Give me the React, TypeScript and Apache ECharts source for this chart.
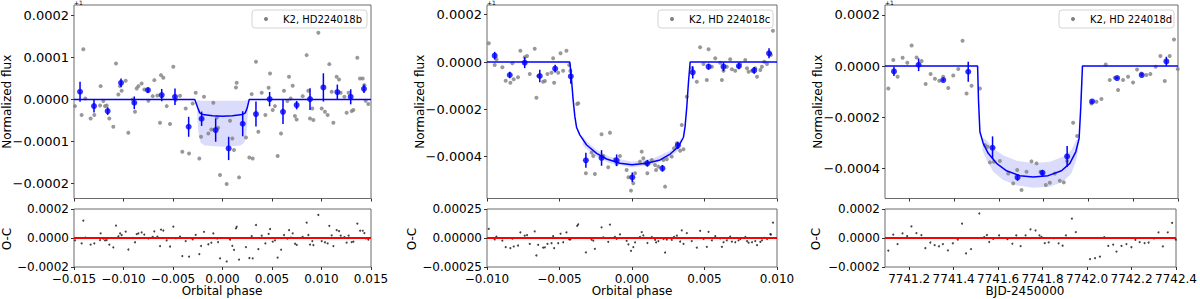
import React, { useEffect, useRef } from "react";
import * as echarts from "echarts";

// ---------- Panel 1: HD224018b (orbital phase, flux offset in ppm around 1) ----------
const bPhase = [
  -0.0149, -0.01423, -0.01406, -0.01386, -0.01332, -0.01295, -0.01231, -0.01237, -0.01204, -0.01187,
  -0.0117, -0.01143, -0.01103, -0.01076, -0.01052, -0.01035, -0.01019, -0.00978, -0.00951, -0.00907,
  -0.00884, -0.00867, -0.0085, -0.00817, -0.0079, -0.00749, -0.00705, -0.00689, -0.00658, -0.00631,
  -0.00621, -0.00598, -0.00564, -0.0053, -0.00497, -0.00473, -0.00429, -0.00406, -0.00372, -0.00338,
  -0.00301, -0.00271, -0.00234, -0.00217, -0.00187, -0.00143, -0.00113, -0.00093, -0.00056, -0.00045,
  -0.00025, 0.00042, 0.00076, 0.00099, 0.00116, 0.00136, 0.00143, 0.00167, 0.00237, 0.00271,
  0.00295, 0.00305, 0.00338, 0.00362, 0.00396, 0.00433, 0.00466, 0.0048, 0.00507, 0.0053,
  0.00557, 0.00591, 0.00621, 0.00655, 0.00672, 0.00689, 0.00709, 0.00732, 0.00749, 0.0081,
  0.0085, 0.00867, 0.00884, 0.00907, 0.00918, 0.00968, 0.01002, 0.01035, 0.01062, 0.01079,
  0.01103, 0.0112, 0.01153, 0.01177, 0.01194, 0.01231, 0.01254, 0.01274, 0.01305, 0.01322,
  0.01362, 0.01389, 0.01416, 0.01433, 0.01446, 0.01473,
];
const bFlux = [
  -15.9, -37.3, 119.8, 2.4, -45.2, -37.3, 31.7, -14.3, -4.0, -15.9,
  -14.3, -45.2, -65.1, 85.7, 11.9, 31.7, 20.6, 44.4, -79.4, 0,
  -29.4, 26.2, 31.7, 38.1, 23.8, -3.2, 7.9, 46.0, 9.5, -55.6,
  57.9, 51.6, -15.9, -58.7, 77.8, -1.6, 8.7, -124.6, -21.4, -128.6,
  -9.5, 15.9, -140.5, -88.9, 6.3, -81.0, -71.4, -7.9, -42.9, -67.5,
  -180.2, -201.6, -50.8, -92.9, -120.6, 28.6, 39.7, -185.7, -90.5, -138.1,
  12.7, -140.5, 89.7, -77.0, 15.9, -37.3, 27.8, 61.9, -25.4, -15.9,
  -134.9, -81.0, 20.6, -4.0, 54.0, 2.4, 32.5, -39.7, -47.6, 7.9,
  105.6, 20.6, -45.2, -21.4, -49.2, 158.7, -21.4, -29.4, -37.3, 84.1,
  18.3, -55.6, 54.0, 47.6, 15.9, 6.3, -31.7, 15.9, -27.8, -25.4,
  99.2, 50.0, 50.0, 34.1, -3.2, -11.1,
];
const bBinPhase = [-0.01439, -0.01298, -0.0116, -0.01025, -0.00891, -0.00753, -0.00614, -0.0048, -0.00342, -0.00211, -0.00069, 0.00062, 0.00204, 0.00338, 0.00476, 0.00611, 0.00749, 0.00884, 0.01019, 0.0116, 0.01295, 0.01429];
const bBinFlux = [18.3, -15.9, -27.8, 39.7, -7.9, 22.2, 10.3, 6.3, -65.1, -46.0, -73.0, -116.7, -57.9, -34.9, 0.8, -29.4, -13.5, 0.8, 28.6, 17.5, 6.3, 25.4];
const bBinErr = [23.8, 15.1, 9.1, 9.9, 15.1, 6, 14.7, 19.8, 23.8, 17.1, 27.8, 27.8, 29.8, 29.8, 17.1, 29, 9.9, 25.8, 33.7, 17.9, 17.9, 9.9];
const bModelPhase = [-0.015, -0.0028, -0.0025, -0.0023, -0.002, -0.001, 0, 0.001, 0.002, 0.0023, 0.0025, 0.0027, 0.015];
const bModelFlux = [0, 0, -20, -32, -36, -39, -40, -39, -36, -32, -20, 0, 0];
const bBandPhase = [-0.0026, -0.0025, -0.0024, -0.0022, -0.0018, 0, 0.0018, 0.0022, 0.0024, 0.0025, 0.0026];
const bBandUpper = [-2, -2, -2, -3, -3, -3, -3, -3, -2, -2, -2];
const bBandLower = [-10, -60, -85, -103, -110, -113, -110, -103, -85, -60, -10];

// ---------- Panel 2: HD 224018c ----------
const cPhase = [
  -0.00988, -0.00947, -0.00935, -0.00894, -0.00871, -0.00839, -0.00825, -0.00816, -0.00786, -0.0077,
  -0.0074, -0.00724, -0.00705, -0.00671, -0.00659, -0.00647, -0.00613, -0.00601, -0.00583, -0.00555,
  -0.00544, -0.00537, -0.00509, -0.00493, -0.00475, -0.00452, -0.00433, -0.00425, -0.00378, -0.00371,
  -0.00318, -0.00279, -0.00267, -0.00256, -0.0021, -0.00198, -0.00164, -0.00152, -0.00118, -0.00106,
  -0.00083, -0.00037, -0.00025, -0.00007, 0.00009, 0.00021, 0.00055, 0.00067, 0.00078, 0.0009,
  0.00106, 0.00136, 0.00159, 0.00166, 0.00182, 0.00217, 0.00228, 0.0024, 0.00274, 0.0029,
  0.00309, 0.00332, 0.00343, 0.00355, 0.00378, 0.00412, 0.00447, 0.0047, 0.00493, 0.00516,
  0.00528, 0.00551, 0.00574, 0.00608, 0.0062, 0.00631, 0.00654, 0.00677, 0.00689, 0.00712,
  0.00735, 0.00746, 0.00781, 0.00793, 0.00804, 0.00827, 0.0085, 0.00862, 0.00885, 0.00896,
  0.00912, 0.00931, 0.00954, 0.00958, 0.00972,
];
const cFlux = [
  78.9, -12.7, 11.3, -22.5, -78.9, -87.3, -5.6, -73.2, -64.8, 47.9,
  19.7, 25.4, -50.7, 56.3, -150.7, -59.2, -83.1, -80.3, -50.7, -45.1,
  15.5, -87.3, -45.1, 36.6, -36.6, 47.9, -12.7, -38.0, -177.5, -174.7,
  -470.4, -383.1, -397.2, -473.3, -305.6, -397.2, -445.1, -298.6, -411.3, -431.0,
  -397.2, -456.4, -487.3, -543.7, -512.7, -470.4, -421.1, -378.9, -407.0, -428.2,
  -470.4, -414.1, -435.2, -456.4, -442.3, -414.1, -526.8, -411.3, -400.0, -364.8,
  -343.7, -374.7, -266.2, -369.0, -146.5, -26.8, -83.1, 62.0, -8.5, -76.1,
  53.5, -19.7, 15.5, -2.8, -76.1, -36.6, -19.7, 11.3, -31.0, -36.6,
  -19.7, -8.5, 8.5, -26.8, -40.8, -36.6, -26.8, -62.0, -33.8, -19.7,
  1.4, -8.5, 33.8, 29.6, 132.4,
];
const cBinPhase = [-0.00947, -0.00843, -0.0074, -0.00636, -0.0053, -0.00422, -0.00318, -0.0021, -0.00106, 0.00002, 0.00106, 0.0021, 0.00316, 0.00419, 0.00528, 0.00631, 0.00737, 0.00843, 0.00945];
const cBinFlux = [26.8, -54.9, -2.8, -59.2, -28.2, -60.6, -415.5, -405.6, -415.5, -487.3, -428.2, -449.3, -352.1, -43.7, -19.7, -19.7, -16.9, -35.2, 36.6];
const cBinErr = [16.2, 14.1, 23.2, 26.1, 16.2, 31.7, 31.7, 33.1, 24.6, 20.4, 14.1, 14.1, 15.5, 26.1, 12.7, 19, 14.1, 14.1, 21.1];
const cModelPhase = [-0.01, -0.00429, -0.00417, -0.00406, -0.00394, -0.00382, -0.0036, -0.00313, -0.00244, -0.00175, -0.00083, 0, 0.00101, 0.00194, 0.00263, 0.0032, 0.00355, 0.00366, 0.00378, 0.00389, 0.00401, 0.01];
const cModelFlux = [0, 0, -76, -160, -231, -277, -308, -351, -386, -410, -428, -434, -428, -414, -389, -358, -318, -273, -189, -90, 0, 0];
const cBandPhase = [-0.0034, -0.00325, -0.00244, -0.00152, 0, 0.00147, 0.00263, 0.0032, 0.0034];
const cBandUpper = [-310, -328, -372, -402, -422, -408, -375, -343, -318];
const cBandLower = [-350, -362, -400, -428, -446, -432, -403, -373, -358];

// ---------- Panel 3: HD 224018d (BJD-2450000) ----------
const dTime = [
  7741.1064, 7741.1287, 7741.148, 7741.1703, 7741.1911, 7741.2105, 7741.2328, 7741.2551, 7741.2729, 7741.2952,
  7741.3146, 7741.3339, 7741.3517, 7741.3741, 7741.3964, 7741.4186, 7741.4379, 7741.4558, 7741.4781, 7741.5153,
  7741.5376, 7741.5495, 7741.5599, 7741.5777, 7741.6045, 7741.6417, 7741.664, 7741.6818, 7741.7012, 7741.7235,
  7741.7458, 7741.7681, 7741.7859, 7741.7948, 7741.8097, 7741.8276, 7741.8499, 7741.8722, 7741.89, 7741.9049,
  7741.9317, 7741.9495, 7742.0134, 7742.0357, 7742.0581, 7742.0774, 7742.0952, 7742.1175, 7742.1324, 7742.1547,
  7742.177, 7742.1993, 7742.2172, 7742.2365, 7742.2588, 7742.2766, 7742.3004, 7742.3212, 7742.3408, 7742.3629,
  7742.3822, 7742.399,
];
const dFlux = [
  -87.0, 23.4, -41.6, 32.5, 13.0, 80.5, 33.8, 19.5, -70.1, -31.2,
  -49.4, -57.1, -41.6, -85.7, -36.4, -11.7, 98.7, -106.5, -76.6, -87.0,
  -307.8, -314.3, -375.3, -372.7, -370.1, -418.2, -457.1, -405.2, -483.1, -411.7,
  -371.4, -379.2, -411.7, -420.8, -463.6, -454.5, -418.2, -446.8, -453.2, -370.1,
  -220.8, -272.7, -145.5, -139.0, -128.6, 6.5, -54.5, -45.5, -93.5, -54.5,
  -41.6, -63.6, -13.0, -28.6, -35.1, -31.2, -2.6, 39.0, -58.4, 39.0,
  103.9, -11.7,
];
const dBinTime = [7741.1316, 7741.2417, 7741.3517, 7741.4632, 7741.5718, 7741.6833, 7741.7948, 7741.9049, 7742.0164, 7742.1279, 7742.238, 7742.348];
const dBinFlux = [-20.8, 5.2, -54.5, -22.1, -318.2, -433.8, -415.6, -352.0, -137.7, -46.8, -35.1, 18.2];
const dBinErr = [18.2, 24.7, 4, 39, 44.2, 13, 11, 40.9, 4, 4, 4, 18.2];
const dModelTime = [7741.0915, 7741.505, 7741.509, 7741.5153, 7741.53, 7741.5525, 7741.5897, 7741.6343, 7741.6937, 7741.7532, 7741.8202, 7741.8796, 7741.917, 7741.9436, 7741.9584, 7741.9659, 7741.9733, 7742.4];
const dModelFlux = [0, 0, -132, -256, -301, -340, -379, -408, -427, -432, -427, -408, -379, -334, -282, -158, 0, 0];
const dBandTime = [7741.527, 7741.545, 7741.575, 7741.619, 7741.679, 7741.753, 7741.828, 7741.887, 7741.924, 7741.946, 7741.955];
const dBandUpper = [-280, -288, -321, -347, -369, -379, -373, -353, -327, -288, -280];
const dBandLower = [-330, -366, -412, -444, -464, -474, -470, -451, -418, -366, -320];

// ---------- Axes ----------
const bXRange = [-0.015, 0.015];
const cXRange = [-0.01, 0.01];
const dXRange = [7741.0915, 7742.4];
const bYRange = [-236, 225];
const cYRange = [-577, 241];
const dYRange = [-516, 238];
const bResRange = [-200, 200];
const cResRange = [-250, 250];
const dResRange = [-200, 200];
const bXTicks = [-0.015, -0.01, -0.005, 0, 0.005, 0.01, 0.015];
const cXTicks = [-0.01, -0.005, 0, 0.005, 0.01];
const dXTicks = [7741.2, 7741.4, 7741.6, 7741.8, 7742.0, 7742.2, 7742.4];
const bYTicks = [-200, -100, 0, 100, 200];
const cYTicks = [-400, -200, 0, 200];
const dYTicks = [-400, -200, 0, 200];
const bResTicks = [-200, 0, 200];
const cResTicks = [-250, 0, 250];
const dResTicks = [-200, 0, 200];

const legendNames = ["K2, HD224018b", "K2, HD 224018c", "K2, HD 224018d"];
const xTitles = ["Orbital phase", "Orbital phase", "BJD-2450000"];

const FONT = "DejaVu Sans";
const BLUE = "#0000ff";

function interp(x: number, xs: number[], ys: number[]) {
  if (x <= xs[0]) return ys[0];
  for (let i = 0; i < xs.length - 1; i++) {
    if (x <= xs[i + 1]) {
      const t = (x - xs[i]) / (xs[i + 1] - xs[i]);
      return ys[i] + t * (ys[i + 1] - ys[i]);
    }
  }
  return ys[ys.length - 1];
}

const signed = (s: string, neg: boolean) => (neg ? "\u2212" + s : s);
const fmtFlux = (d: number) => (v: number) => signed(Math.abs(v * 1e-6).toFixed(d), v < -1e-9);
const fmtX = (d: number) => (v: number) => signed(Math.abs(v).toFixed(d), v < -1e-9);

export default function App() {
  const ref = useRef<HTMLDivElement>(null);

  useEffect(() => {
    if (!ref.current) return;
    const chart = echarts.init(ref.current, null, { renderer: "svg" });

    const panels = [
      {
        left: 74, width: 297, x: bPhase, y: bFlux, bx: bBinPhase, by: bBinFlux, be: bBinErr,
        mx: bModelPhase, my: bModelFlux, sx: bBandPhase, su: bBandUpper, sl: bBandLower,
        xr: bXRange, yr: bYRange, rr: bResRange, xt: bXTicks, yt: bYTicks, rt: bResTicks,
        xf: fmtX(3), rf: fmtFlux(4), nameX: 7, ocX: 7, titleX: 222,
      },
      {
        left: 487, width: 290, x: cPhase, y: cFlux, bx: cBinPhase, by: cBinFlux, be: cBinErr,
        mx: cModelPhase, my: cModelFlux, sx: cBandPhase, su: cBandUpper, sl: cBandLower,
        xr: cXRange, yr: cYRange, rr: cResRange, xt: cXTicks, yt: cYTicks, rt: cResTicks,
        xf: fmtX(3), rf: fmtFlux(5), nameX: 420, ocX: 412, titleX: 632,
      },
      {
        left: 885, width: 293, x: dTime, y: dFlux, bx: dBinTime, by: dBinFlux, be: dBinErr,
        mx: dModelTime, my: dModelFlux, sx: dBandTime, su: dBandUpper, sl: dBandLower,
        xr: dXRange, yr: dYRange, rr: dResRange, xt: dXTicks, yt: dYTicks, rt: dResTicks,
        xf: fmtX(1), rf: fmtFlux(4), nameX: 818, ocX: 816, titleX: 1025,
      },
    ];

    const MAIN_TOP = 5, MAIN_H = 193.5, RES_TOP = 209, RES_H = 58;
    const grid: any[] = [], xAxis: any[] = [], yAxis: any[] = [], series: any[] = [], graphic: any[] = [];

    const tickStyle = { show: true, length: 3, lineStyle: { color: "#333", width: 1 } };
    const noLine = { show: false, onZero: false };

    panels.forEach((p, k) => {
      const gMain = k * 2, gRes = k * 2 + 1;
      grid.push({ left: p.left, width: p.width, top: MAIN_TOP, height: MAIN_H, show: true, borderColor: "#6a6a6a", borderWidth: 1, backgroundColor: "transparent" });
      grid.push({ left: p.left, width: p.width, top: RES_TOP, height: RES_H, show: true, borderColor: "#6a6a6a", borderWidth: 1, backgroundColor: "transparent" });

      xAxis.push({
        type: "value", gridIndex: gMain, min: p.xr[0], max: p.xr[1], position: "bottom",
        axisLine: noLine, splitLine: { show: false },
        axisTick: { ...tickStyle, customValues: p.xt },
        axisLabel: { show: false, customValues: p.xt },
      });
      xAxis.push({
        type: "value", gridIndex: gRes, min: p.xr[0], max: p.xr[1], position: "bottom",
        axisLine: noLine, splitLine: { show: false },
        axisTick: { ...tickStyle, customValues: p.xt },
        axisLabel: { show: true, customValues: p.xt, formatter: p.xf, color: "#000", fontFamily: FONT, fontSize: 12, lineHeight: 12, margin: 6 },
      });
      yAxis.push({
        type: "value", gridIndex: gMain, min: p.yr[0], max: p.yr[1], position: "left",
        axisLine: noLine, splitLine: { show: false },
        axisTick: { ...tickStyle, customValues: p.yt },
        axisLabel: { show: true, customValues: p.yt, formatter: fmtFlux(4), color: "#000", fontFamily: FONT, fontSize: 13, margin: 5 },
      });
      yAxis.push({
        type: "value", gridIndex: gRes, min: p.rr[0], max: p.rr[1], position: "left",
        axisLine: noLine, splitLine: { show: false },
        axisTick: { ...tickStyle, customValues: p.rt },
        axisLabel: { show: true, customValues: p.rt, formatter: p.rf, color: "#000", fontFamily: FONT, fontSize: 12, lineHeight: 11, margin: 5 },
      });

      const sx = p.sx, su = p.su, sl = p.sl;
      // shaded model uncertainty band
      series.push({
        type: "custom", xAxisIndex: gMain, yAxisIndex: gMain, silent: true, clip: true, z: 1,
        data: sx.map((x, i) => [x, su[i], sl[i]]),
        encode: { x: 0, y: [1, 2] },
        renderItem: (params: any, api: any) => {
          if (params.dataIndex !== 0) return null;
          const pts: number[][] = [];
          for (let i = 0; i < sx.length; i++) pts.push(api.coord([sx[i], su[i]]));
          for (let i = sx.length - 1; i >= 0; i--) pts.push(api.coord([sx[i], sl[i]]));
          return { type: "polygon", shape: { points: pts }, style: { fill: "rgba(40,40,230,0.17)", stroke: "none" } };
        },
      });
      // raw photometry
      series.push({
        type: "scatter", xAxisIndex: gMain, yAxisIndex: gMain, silent: true, z: 2,
        symbolSize: 4, itemStyle: { color: "#808080" },
        data: p.x.map((x, i) => [x, p.y[i]]),
      });
      // model
      series.push({
        type: "line", xAxisIndex: gMain, yAxisIndex: gMain, silent: true, z: 3,
        showSymbol: false, symbol: "none", lineStyle: { color: BLUE, width: 1.5 },
        data: p.mx.map((x, i) => [x, p.my[i]]),
      });
      // error bars of binned points
      series.push({
        type: "custom", xAxisIndex: gMain, yAxisIndex: gMain, silent: true, z: 4,
        data: p.bx.map((x, i) => [x, p.by[i], p.be[i]]),
        encode: { x: 0, y: 1 },
        renderItem: (_params: any, api: any) => {
          const x = api.value(0), y = api.value(1), e = api.value(2);
          const a = api.coord([x, y - e]);
          const b = api.coord([x, y + e]);
          return { type: "line", shape: { x1: a[0], y1: a[1], x2: b[0], y2: b[1] }, style: { stroke: BLUE, lineWidth: 1.5 } };
        },
      });
      // binned points
      series.push({
        type: "scatter", xAxisIndex: gMain, yAxisIndex: gMain, silent: true, z: 5,
        symbolSize: 6, itemStyle: { color: BLUE },
        data: p.bx.map((x, i) => [x, p.by[i]]),
      });
      // residuals (O-C) with zero line
      series.push({
        type: "scatter", xAxisIndex: gRes, yAxisIndex: gRes, silent: true, z: 2,
        symbolSize: 2, itemStyle: { color: "#111" },
        data: p.x.map((x, i) => [x, p.y[i] - interp(x, p.mx, p.my)]),
        markLine: {
          silent: true, symbol: "none", label: { show: false },
          lineStyle: { color: "#ff0000", width: 2, type: "solid" },
          data: [{ yAxis: 0 }],
        },
      });

      // axis titles
      graphic.push({
        type: "text", x: p.nameX, y: MAIN_TOP + MAIN_H / 2, rotation: Math.PI / 2, z: 50,
        style: { text: "Normalized flux", fontFamily: FONT, fontSize: 12, fill: "#000", align: "center", verticalAlign: "middle", textAlign: "center", textVerticalAlign: "middle" },
      });
      graphic.push({
        type: "text", x: p.ocX, y: RES_TOP + RES_H / 2 + 1, rotation: Math.PI / 2, z: 50,
        style: { text: "O-C", fontFamily: FONT, fontSize: 12, fill: "#000", align: "center", verticalAlign: "middle", textAlign: "center", textVerticalAlign: "middle" },
      });
      graphic.push({
        type: "text", x: p.titleX, y: 291, z: 50,
        style: { text: xTitles[k], fontFamily: FONT, fontSize: 12, fill: "#000", align: "center", verticalAlign: "middle", textAlign: "center", textVerticalAlign: "middle" },
      });
      // offset text
      graphic.push({
        type: "text", x: p.left, y: 2.5, z: 50,
        style: { text: "+1", fontFamily: FONT, fontSize: 6, fill: "#000", align: "left", verticalAlign: "middle", textAlign: "left", textVerticalAlign: "middle" },
      });
      // legend
      const lx = p.left + p.width - 119;
      graphic.push({
        type: "group", x: lx, y: 10, z: 60,
        children: [
          { type: "rect", shape: { x: 0, y: 0, width: 115, height: 18, r: 3 }, style: { fill: "rgba(255,255,255,0.85)", stroke: "#d4d4d4", lineWidth: 1 } },
          { type: "circle", shape: { cx: 14, cy: 9, r: 2 }, style: { fill: "#808080" } },
          { type: "text", x: 31, y: 9.5, style: { text: legendNames[k], fontFamily: FONT, fontSize: 10, fill: "#000", align: "left", verticalAlign: "middle", textAlign: "left", textVerticalAlign: "middle" } },
        ],
      });
    });

    chart.setOption({
      animation: false,
      backgroundColor: "#ffffff",
      textStyle: { fontFamily: FONT },
      grid, xAxis, yAxis, series, graphic,
    });

    return () => chart.dispose();
  }, []);

  return <div ref={ref} style={{ position: "absolute", left: 0, top: 0, width: 1200, height: 299 }} />;
}
